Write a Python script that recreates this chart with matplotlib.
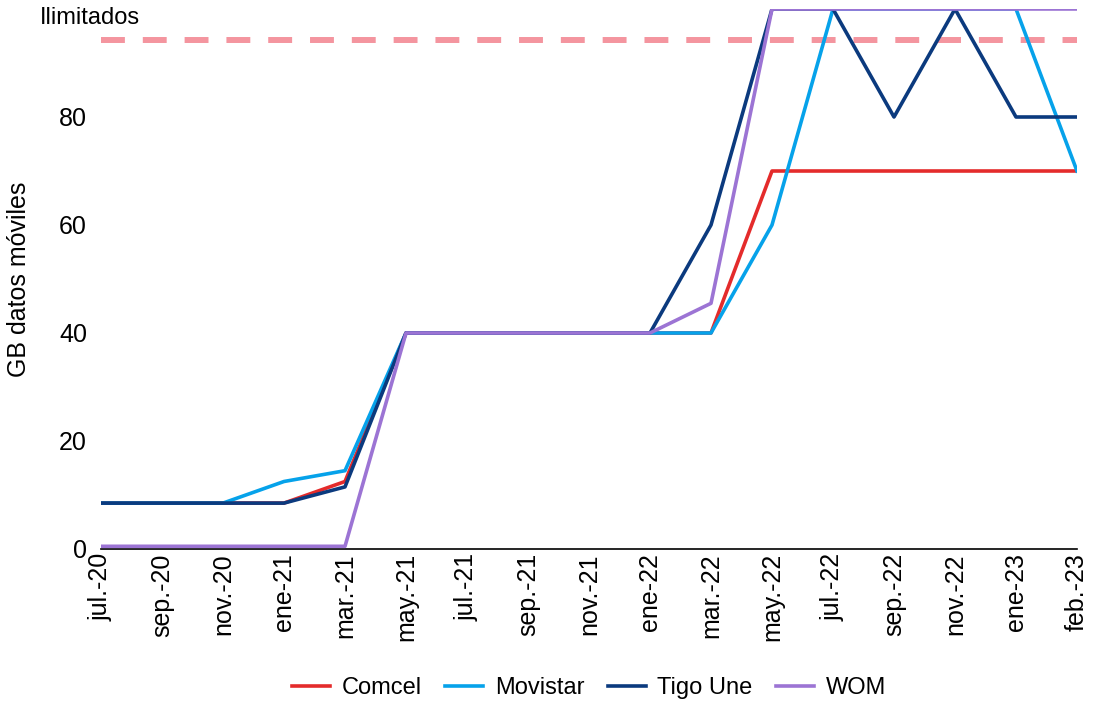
import numpy as np
import matplotlib.pyplot as plt

# Datos
meses = ['jul.-20', 'sep.-20', 'nov.-20', 'ene-21', 'mar.-21', 'may.-21', 'jul.-21',
         'sep.-21', 'nov.-21', 'ene-22', 'mar.-22', 'may.-22', 'jul.-22', 'sep.-22',
         'nov.-22', 'ene-23', 'feb.-23']
comcel = [8.5, 8.5, 8.5, 8.5, 12.5, 40, 40, 40, 40, 40, 40, 70, 70, 70, 70, 70, 70]
movistar = [8.5, 8.5, 8.5, 12.5, 14.5, 40, 40, 40, 40, 40, 40, 60, 100, 100, 100, 100, 70]
tigo = [8.5, 8.5, 8.5, 8.5, 11.5, 40, 40, 40, 40, 40, 60, 100, 100, 80, 100, 80, 80]
wom = [0.5, 0.5, 0.5, 0.5, 0.5, 40, 40, 40, 40, 40, 45.5, 100, 100, 100, 100, 100, 100]
ilimitado_ref = 94.3

plt.rcParams['font.family'] = ['Liberation Sans', 'DejaVu Sans']

fig = plt.figure(figsize=(10.94, 7.04), dpi=100)
ax = fig.add_axes([101/1094, 1 - 549/704, (1077-101)/1094, (549-9)/704])

x = np.arange(len(meses))
ax.axhline(ilimitado_ref, color='#F4959F', lw=4.3, dashes=(4.0, 3.0), zorder=1)
ax.plot(x, comcel, color='#E42B2B', lw=2.6, label='Comcel', zorder=2)
ax.plot(x, movistar, color='#06A2EA', lw=2.6, label='Movistar', zorder=3)
ax.plot(x, tigo, color='#0B3A7E', lw=2.6, label='Tigo Une', zorder=4)
ax.plot(x, wom, color='#9C74D4', lw=2.6, label='WOM', zorder=5)

ax.set_xlim(0, len(meses) - 1)
ax.set_ylim(0, 100)
ax.set_yticks([0, 20, 40, 60, 80])
ax.set_xticks(x)
ax.set_xticklabels(meses, rotation=90)
ax.tick_params(axis='y', length=0, labelsize=18, pad=10)
ax.tick_params(axis='x', length=0, labelsize=18, pad=3)
for s in ['top', 'right', 'left']:
    ax.spines[s].set_visible(False)
ax.spines['bottom'].set_color('black')
ax.spines['bottom'].set_linewidth(1.2)

fig.text(40/1094, 1 - 18/704, 'Ilimitados', fontsize=17, ha='left', va='center')
ax.set_ylabel('GB datos móviles', fontsize=18, labelpad=20)

ax.legend(loc='center', bbox_to_anchor=(0.5, -(688-549)/540), ncol=4, frameon=False,
          fontsize=17, handlelength=1.6, columnspacing=1.0, handletextpad=0.5)

fig.savefig('out.png', dpi=100)
